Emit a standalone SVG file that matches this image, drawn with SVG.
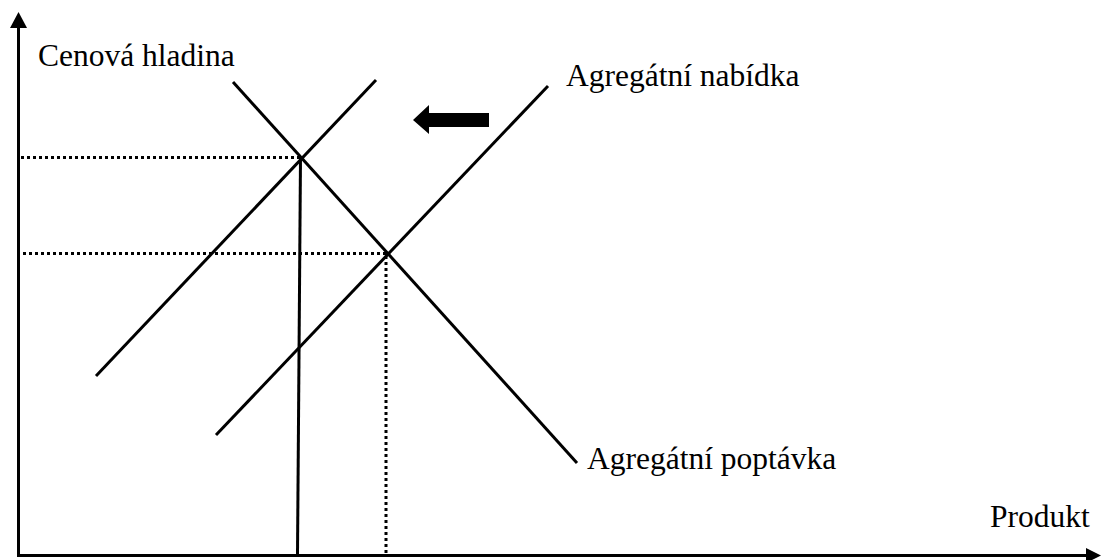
<svg xmlns="http://www.w3.org/2000/svg" width="1101" height="560" viewBox="0 0 1101 560">
<style>
.ln{stroke:#000;stroke-width:3;fill:none}
.dot{stroke:#000;stroke-width:3;stroke-dasharray:3 3;fill:none}
text{font-family:"Liberation Serif","Times New Roman",serif;font-size:31.5px;fill:#000}
</style>
<rect width="1101" height="560" fill="#fff"/>
<g id="axes">
<line class="ln" x1="18.5" y1="556" x2="18.5" y2="24"/>
<polygon points="18.5,12 10,28 27,28" fill="#000"/>
<line class="ln" x1="17" y1="555.5" x2="1090" y2="555.5"/>
<polygon points="1101,555.5 1086,548 1086,563" fill="#000"/>
</g>
<g id="connectors">
<line class="dot" x1="21" y1="157.5" x2="300" y2="157.5"/>
<line class="dot" x1="23" y1="253.5" x2="386" y2="253.5"/>
<line class="dot" x1="386" y1="256" x2="386" y2="554"/>
<line class="ln" x1="300.5" y1="158" x2="297.5" y2="554"/>
</g>
<g id="ad">
<line class="ln" x1="233" y1="82" x2="577" y2="463"/>
</g>
<g id="as1">
<line class="ln" x1="96" y1="376" x2="376" y2="80"/>
</g>
<g id="as2">
<line class="ln" x1="216" y1="435" x2="548" y2="86"/>
</g>
<g id="shift-arrow">
<polygon points="413,120 429,105 429,113 489,113 489,127 429,127 429,134" fill="#000"/>
</g>
<g id="labels">
<text x="38" y="66">Cenová hladina</text>
<text x="566" y="86">Agregátní nabídka</text>
<text x="587" y="469">Agregátní poptávka</text>
<text x="990" y="527">Produkt</text>
</g>
</svg>
